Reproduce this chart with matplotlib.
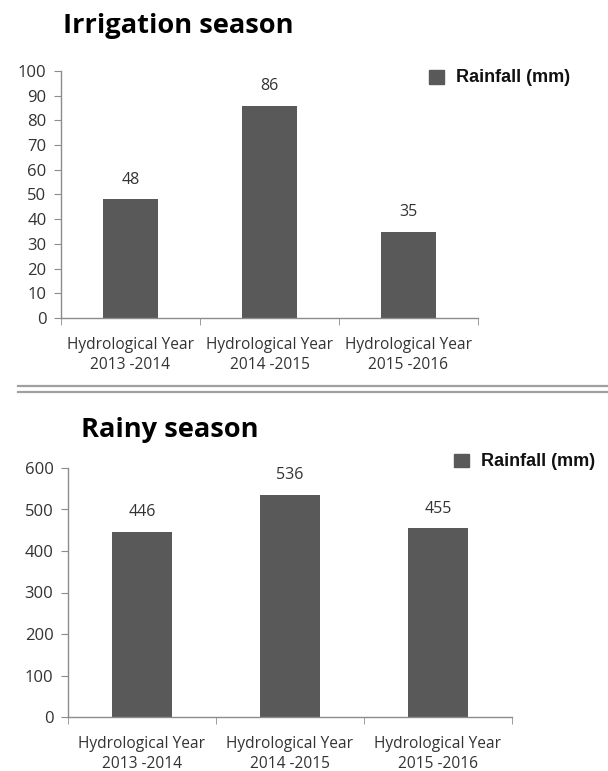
import matplotlib
matplotlib.use("Agg")
import matplotlib.pyplot as plt
from matplotlib.lines import Line2D

categories = ["Hydrological Year\n2013 -2014", "Hydrological Year\n2014 -2015", "Hydrological Year\n2015 -2016"]
irrigation_rainfall = [48, 86, 35]
rainy_rainfall = [446, 536, 455]
series_name = "Rainfall (mm)"

W, H = 608, 771
fig = plt.figure(figsize=(W / 100, H / 100), dpi=100)
fig.patch.set_facecolor("white")

BAR = "#595959"
AX = "#8c8c8c"
TXT = "#333333"
FONT = ["Open Sans", "DejaVu Sans"]
LEGFONT = ["Liberation Sans", "DejaVu Sans"]


def px_axes(x0, y0, x1, y1):
    return fig.add_axes([x0 / W, 1 - y1 / H, (x1 - x0) / W, (y1 - y0) / H])


def draw(ax, values, ymax, ystep):
    x = list(range(len(values)))
    ax.bar(x, values, width=0.4, color=BAR, zorder=2)
    ax.set_xlim(-0.5, len(values) - 0.5)
    ax.set_ylim(0, ymax)
    ax.set_yticks(range(0, ymax + 1, ystep))
    ax.set_xticks(x)
    ax.set_xticklabels(categories, fontfamily=FONT, fontsize=11.2, color=TXT, linespacing=1.32)
    ax.set_xticks([i - 0.5 for i in range(len(values) + 1)], minor=True)
    ax.tick_params(axis="x", which="major", length=0, pad=13.5)
    ax.tick_params(axis="x", which="minor", length=5, color=AX, direction="out")
    ax.tick_params(axis="y", length=5, color=AX, direction="out", pad=5.5)
    for lab in ax.get_yticklabels():
        lab.set_fontfamily(FONT)
        lab.set_fontsize(12)
        lab.set_color(TXT)
    for s in ["top", "right"]:
        ax.spines[s].set_visible(False)
    for s in ["left", "bottom"]:
        ax.spines[s].set_color(AX)
        ax.spines[s].set_linewidth(1.0)
    for xi, v in zip(x, values):
        ax.annotate(f"{v}", xy=(xi, v), xytext=(0, 14), textcoords="offset points",
                    ha="center", va="center", fontfamily=FONT, fontsize=11.5, color=TXT)


def legend_at(x_sq, y_c):
    fig.patches.append(plt.Rectangle((x_sq / W, 1 - (y_c + 6.5) / H), 15 / W, 13 / H,
                                     transform=fig.transFigure, color=BAR))
    fig.text((x_sq + 27) / W, 1 - y_c / H, series_name, fontfamily=LEGFONT, fontweight="bold",
             fontsize=13, color="#111111", ha="left", va="center")


# Top chart
ax1 = px_axes(61, 71, 478, 318)
draw(ax1, irrigation_rainfall, 100, 10)
fig.text(63 / W, 1 - 33 / H, "Irrigation season", fontfamily=FONT, fontweight="bold",
         fontsize=19.6, color="#000000", ha="left", va="baseline")
legend_at(429, 77)

# Separator double line
for yy in (386, 392):
    fig.add_artist(Line2D([18 / W, 1.0], [1 - yy / H, 1 - yy / H], transform=fig.transFigure,
                          color="#a0a0a0", linewidth=1.6))

# Bottom chart
ax2 = px_axes(68, 468, 512, 717)
draw(ax2, rainy_rainfall, 600, 100)
fig.text(81 / W, 1 - 437 / H, "Rainy season", fontfamily=FONT, fontweight="bold",
         fontsize=19.6, color="#000000", ha="left", va="baseline")
legend_at(454, 461)

fig.savefig("out.png", dpi=100, facecolor="white")
